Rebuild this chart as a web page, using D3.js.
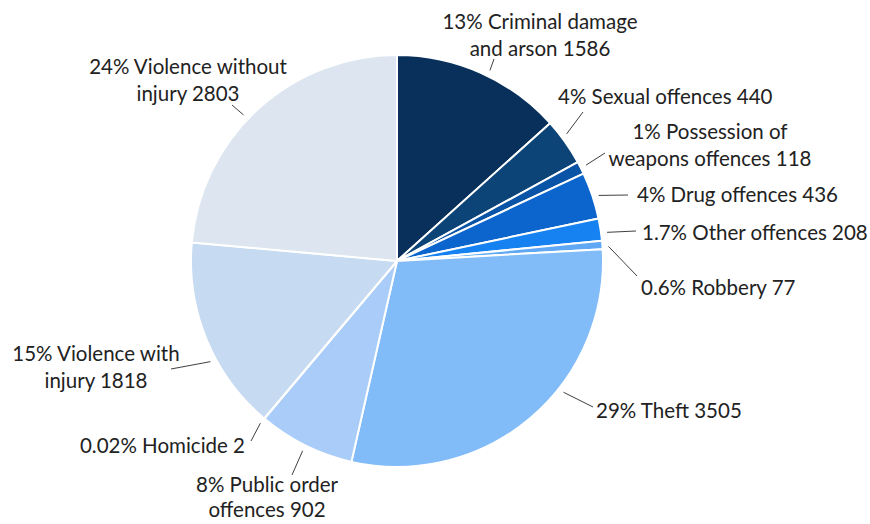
<!DOCTYPE html>
<html>
<head>
<meta charset="utf-8">
<script src="https://cdn.jsdelivr.net/npm/d3@7"></script>
<style>
  html, body { margin: 0; padding: 0; background: #fff; }
  svg { display: block; }
  .lbl { font-family: Lato, "Open Sans", sans-serif; font-size: 20.5px; fill: #222; }
</style>
</head>
<body>
<svg id="chart" width="870" height="524"></svg>
<script>
// Offence categories, clockwise from 12 o'clock
const categories = [
  "Criminal damage and arson",
  "Sexual offences",
  "Possession of weapons offences",
  "Drug offences",
  "Other offences",
  "Robbery",
  "Theft",
  "Public order offences",
  "Homicide",
  "Violence with injury",
  "Violence without injury"
];
const counts = [1586, 440, 118, 436, 208, 77, 3505, 902, 2, 1818, 2803];
const shares = ["13%", "4%", "1%", "4%", "1.7%", "0.6%", "29%", "8%", "0.02%", "15%", "24%"];

// Text of each data label, line by line
const labelLines = [
  ["13% Criminal damage", "and arson 1586"],
  ["4% Sexual offences 440"],
  ["1% Possession of", "weapons offences 118"],
  ["4% Drug offences 436"],
  ["1.7% Other offences 208"],
  ["0.6% Robbery 77"],
  ["29% Theft 3505"],
  ["8% Public order", "offences 902"],
  ["0.02% Homicide 2"],
  ["15% Violence with", "injury 1818"],
  ["24% Violence without", "injury 2803"]
];

const sliceColors = [
  "#08305a", "#0d4478", "#0a54a7", "#0b65cd", "#1681f0", "#60a8f4",
  "#81bbf8", "#a9cdf8", "#b8d4f4", "#c6dbf1", "#dce5f0"
];

// Label placement: text anchor point, alignment, leader end, leader angle nudge (deg)
const labelLayout = [
  { x: 540, y: 21,  anchor: "middle", lx: 494, ly: 59,  nudge: 2, gap: 27 },
  { x: 558, y: 96,  anchor: "start",  lx: 583, ly: 112, nudge: -1.5, gap: 27 },
  { x: 710, y: 131, anchor: "middle", lx: 605, ly: 153, nudge: 0, gap: 27 },
  { x: 637, y: 194, anchor: "start",  lx: 628, ly: 195, nudge: 0.5, gap: 27 },
  { x: 642, y: 232, anchor: "start",  lx: 636, ly: 231, nudge: 1, gap: 27 },
  { x: 641, y: 287, anchor: "start",  lx: 637, ly: 276, nudge: 0.5, gap: 27 },
  { x: 596, y: 410, anchor: "start",  lx: 593, ly: 407, nudge: -11.5, gap: 27 },
  { x: 267, y: 484, anchor: "middle", lx: 292, ly: 475, nudge: 0, gap: 25 },
  { x: 245, y: 445, anchor: "end",    lx: 251, ly: 441, nudge: 0, gap: 27 },
  { x: 96,  y: 353, anchor: "middle", lx: 171, ly: 369, nudge: -6, gap: 27 },
  { x: 188, y: 66,  anchor: "middle", lx: 232, ly: 105, nudge: -4, gap: 27 }
];

const svg = d3.select("#chart");
const cx = 397, cy = 261, radius = 206;

const data = categories.map((c, i) => ({ name: c, value: counts[i], share: shares[i], i }));

const pie = d3.pie().value(d => d.value).sort(null);
const arcs = pie(data);
const arcGen = d3.arc().innerRadius(0).outerRadius(radius);

const g = svg.append("g").attr("transform", `translate(${cx},${cy})`);

g.selectAll("path.slice")
  .data(arcs)
  .join("path")
  .attr("class", "slice")
  .attr("d", arcGen)
  .attr("fill", d => sliceColors[d.data.i])
  .attr("stroke", "#fff")
  .attr("stroke-width", 2)
  .attr("stroke-linejoin", "round");

// Leader lines from just outside each slice to its label
const polar = (angle, r) => [cx + r * Math.sin(angle), cy - r * Math.cos(angle)];
svg.selectAll("line.leader")
  .data(arcs)
  .join("line")
  .attr("class", "leader")
  .each(function (d) {
    const L = labelLayout[d.data.i];
    const mid = (d.startAngle + d.endAngle) / 2 + L.nudge * Math.PI / 180;
    const [x1, y1] = polar(mid, radius + 6);
    d3.select(this).attr("x1", x1).attr("y1", y1).attr("x2", L.lx).attr("y2", L.ly);
  })
  .attr("stroke", "#404040")
  .attr("stroke-width", 1);

// Data labels
const labels = svg.selectAll("text.lbl")
  .data(arcs)
  .join("text")
  .attr("class", "lbl")
  .attr("text-anchor", d => labelLayout[d.data.i].anchor)
  .attr("dominant-baseline", "central");

labels.each(function (d) {
  const L = labelLayout[d.data.i];
  d3.select(this).selectAll("tspan")
    .data(labelLines[d.data.i])
    .join("tspan")
    .attr("x", L.x)
    .attr("y", (t, k) => L.y + k * L.gap)
    .text(t => t);
});
</script>
</body>
</html>
